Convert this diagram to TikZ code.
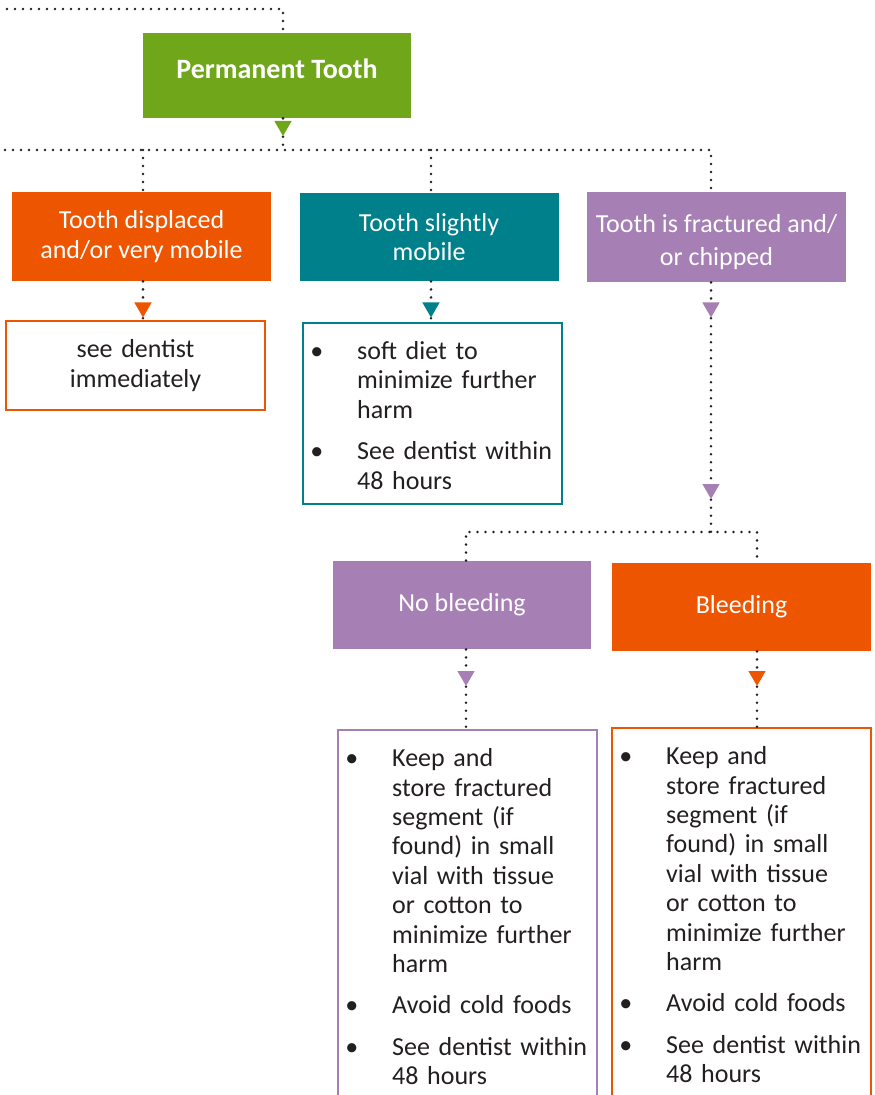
\documentclass[tikz,border=0pt]{standalone}
\usepackage{fontspec}
\setmainfont{Carlito}
\usetikzlibrary{shapes.geometric, positioning}
\definecolor{pgreen}{RGB}{111,166,26}
\definecolor{porange}{RGB}{238,85,0}
\definecolor{pteal}{RGB}{0,128,138}
\definecolor{ppurple}{RGB}{166,128,181}
\definecolor{ptext}{RGB}{35,31,32}
\newcommand{\boxfont}{\fontsize{13}{14.7}\selectfont}
\newcommand{\bitem}[1]{\par\hangindent=24pt\hangafter=1\noindent\hbox to 24pt{\hspace{0.6pt}\textbullet\hss}#1\par}
\newcommand{\bgap}{\vspace{6pt}}
\newcommand{\bdepth}[1]{\rule[-#1]{0pt}{#1}}

\begin{document}
\begin{tikzpicture}[
  x=0.5pt, y=-0.5pt,
  every node/.style={font=\boxfont},
  headbox/.style={rectangle, minimum width=129.5pt, minimum height=44.5pt,
                  inner sep=2pt, align=center, text=white},
  notebox/.style={rectangle, draw, line width=1.2pt, text width=123.5pt,
                  inner xsep=3pt, inner ysep=3.5pt, align=left, text=ptext},
  tri/.style={regular polygon, regular polygon sides=3, shape border rotate=180,
              minimum size=10pt, inner sep=0pt},
  dotline/.style={line width=1.4pt, line cap=round, dash pattern=on 0pt off 4pt, ptext},
]
  \path[use as bounding box] (0,0) rectangle (874,1095);
  \clip (0,0) rectangle (874,1095);

  % Top box
  \node[headbox, fill=pgreen, minimum width=134pt, minimum height=42.5pt, text depth=7pt,
        font=\bfseries\fontsize{14}{16}\selectfont] (perm) at (277,75.5) {Permanent Tooth};

  % Condition boxes
  \node[headbox, fill=porange] (dis) at (141.5,236.5)
    {Tooth displaced\\and/or very mobile};
  \node[headbox, fill=pteal, minimum height=44pt] (mob) at (429,237)
    {Tooth slightly\\mobile};
  \node[headbox, fill=ppurple, minimum height=45pt] (frac) at (716.5,237)
    {\rule{0pt}{14pt}Tooth is fractured and/\\[1.5pt]or chipped};

  % Advice boxes
  \node[notebox, draw=porange, align=center, minimum height=44.5pt] (seenote) at (135.5,365.5)
    {see dentist\\immediately};
  \node[notebox, draw=pteal, anchor=north west] (softnote) at (302,322)
    {\bitem{soft diet to\newline minimize further\newline harm}\bgap
     \bitem{See dentist within\newline 48 hours\bdepth{4pt}}};

  % Bleeding split
  \node[headbox, fill=ppurple, minimum width=129pt, minimum height=44pt] (nob) at (462,605)
    {No bleeding};
  \node[headbox, fill=porange, minimum height=44pt] (ble) at (741.5,607)
    {Bleeding};

  \node[notebox, draw=ppurple, anchor=north west] (nobnote) at (337,729)
    {\bitem{Keep and\newline store fractured\newline segment (if\newline found) in small\newline
     vial with tissue\newline or cotton to\newline minimize further\newline harm}\bgap
     \bitem{Avoid cold foods}\bgap
     \bitem{See dentist within\newline 48 hours\bdepth{30pt}}};
  \node[notebox, draw=porange, anchor=north west] (blenote) at (611,727)
    {\bitem{Keep and\newline store fractured\newline segment (if\newline found) in small\newline
     vial with tissue\newline or cotton to\newline minimize further\newline harm}\bgap
     \bitem{Avoid cold foods}\bgap
     \bitem{See dentist within\newline 48 hours\bdepth{30pt}}};

  % Arrow marks
  \node[tri, fill=pgreen] (t0) at (283,126) {};
  \node[tri, fill=porange] (t1) at (143,307.5) {};
  \node[tri, fill=pteal] (t2) at (431,307.5) {};
  \node[tri, fill=ppurple] (t3) at (711,307.5) {};
  \node[tri, fill=ppurple] (t4) at (711,489) {};
  \node[tri, fill=ppurple] (t5) at (466,676) {};
  \node[tri, fill=porange] (t6) at (757,676) {};

  \coordinate (top) at (7,9);
  \coordinate (bus) at (5,150);
  \coordinate (split) at (711,532);

  % Connectors
  \draw[dotline] (top) -| (perm.north -| t0);
  \draw[dotline] (perm.south -| t0) -- (t0) -- (t0 |- bus);
  \draw[dotline] (bus) -| (frac.north -| t3);
  \draw[dotline] (t1 |- bus) -- (dis.north -| t1);
  \draw[dotline] (t2 |- bus) -- (mob.north -| t2);

  \draw[dotline] (dis.south -| t1) -- (t1) -- (seenote.north -| t1);
  \draw[dotline] (mob.south -| t2) -- (t2) -- (softnote.north -| t2);
  \draw[dotline] (frac.south -| t3) -- (t3) -- (t4) -- (split);
  \draw[dotline] (nob.north -| t5) |- (split) -| (ble.north -| t6);

  \draw[dotline] (nob.south -| t5) -- (t5) -- (nobnote.north -| t5);
  \draw[dotline] (ble.south -| t6) -- (t6) -- (blenote.north -| t6);
\end{tikzpicture}
\end{document}
